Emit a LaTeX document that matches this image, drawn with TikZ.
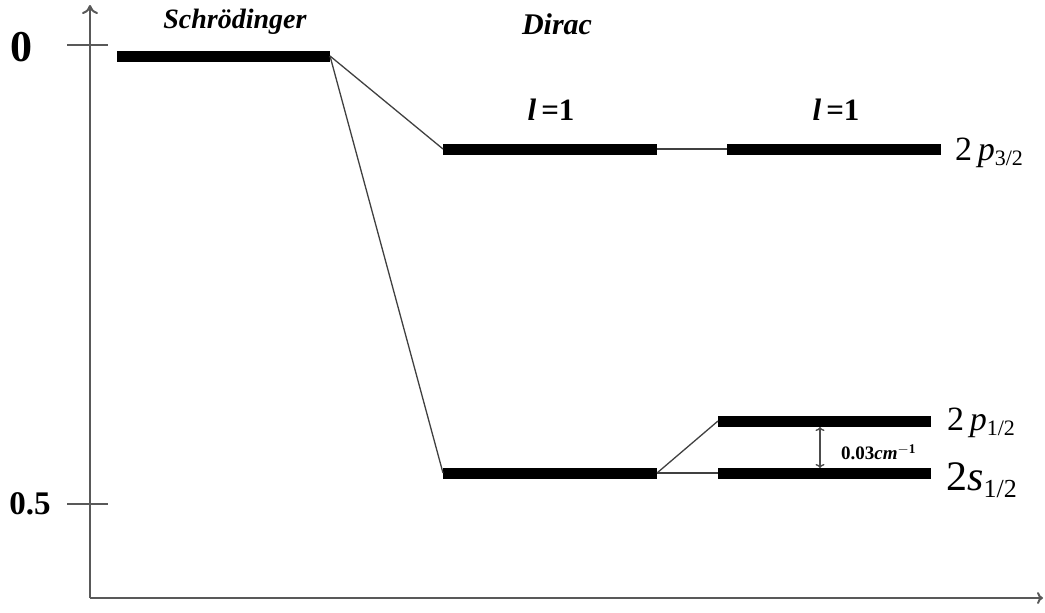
\documentclass[tikz,border=0pt]{standalone}
\usepackage{fontspec}
\setmainfont{Liberation Serif}
\usetikzlibrary{arrows.meta}
\begin{document}
\begin{tikzpicture}[x=1pt,y=-1pt,
  level/.style={line width=11pt,black},
  conn/.style={line width=1.3pt,black!75},
  axis/.style={line width=2pt,black!65},
  lbl/.style={inner sep=0pt,anchor=base}]
\useasboundingbox (0,0) rectangle (1045,613);
% axes
\coordinate (orig) at (90,598);
\coordinate (ytop) at (90,5);
\coordinate (xend) at (1043,598);
\draw[axis,-{To[length=9pt,width=16pt]}] (orig) -- (ytop);
\draw[axis,-{To[length=6pt,width=12pt]}] (orig) -- (xend);
\coordinate (t0a) at (67,45); \coordinate (t0b) at (108,45);
\coordinate (t5a) at (67,504); \coordinate (t5b) at (108,504);
\draw[axis] (t0a) -- (t0b);
\draw[axis] (t5a) -- (t5b);
\node[anchor=center,inner sep=0pt] (l0) at (21,47) {\fontsize{44}{46}\selectfont\bfseries 0};
\node[anchor=center,inner sep=0pt] (l05) at (30,504) {\fontsize{33}{34}\selectfont\bfseries 0.5};
% levels
\coordinate (sa) at (117,56); \coordinate (sb) at (330,56);
\coordinate (p3a) at (443,149); \coordinate (p3b) at (657,149);
\coordinate (q3a) at (727,149); \coordinate (q3b) at (941,149);
\coordinate (s1a) at (443,473); \coordinate (s1b) at (657,473);
\coordinate (r1a) at (718,473); \coordinate (r1b) at (931,473);
\coordinate (p1a) at (718,421); \coordinate (p1b) at (931,421);
\draw[level] (sa) -- (sb);
\draw[level] (p3a) -- (p3b);
\draw[level] (q3a) -- (q3b);
\draw[level] (s1a) -- (s1b);
\draw[level] (r1a) -- (r1b);
\draw[level] (p1a) -- (p1b);
% connectors
\draw[conn] (sb) -- (p3a);
\draw[conn] (sb) -- (s1a);
\draw[conn] (p3b) -- (q3a);
\draw[conn] (s1b) -- (r1a);
\draw[conn] (s1b) -- (p1a);
% splitting arrow
\coordinate (da) at (820,427); \coordinate (db) at (820,468);
\draw[line width=1.4pt,black!70,{To[length=4pt,width=9pt]}-{To[length=4pt,width=9pt]}] (da) -- (db);
\node[anchor=west,inner sep=0pt] (split) at (841,452) {\fontsize{19}{20}\selectfont\bfseries 0.03\textit{cm}$^{\mathbf{-1}}$};
% titles
\node[anchor=center,inner sep=0pt] (schr) at (235,22) {\fontsize{28}{30}\selectfont\bfseries\itshape Schrödinger};
\node[anchor=center,inner sep=0pt] (dirac) at (557,24) {\fontsize{30}{32}\selectfont\bfseries\itshape Dirac};
\node[anchor=center,inner sep=0pt] (lA) at (551,110) {\fontsize{31}{32}\selectfont\bfseries\textit{l}\,=1};
\node[anchor=center,inner sep=0pt] (lB) at (836,110) {\fontsize{31}{32}\selectfont\bfseries\textit{l}\,=1};
% state labels
\node[anchor=west,inner sep=0pt] (n3) at (955,153) {\fontsize{34}{36}\selectfont 2\,\textit{p}\raisebox{-0.3ex}{\fontsize{22}{24}\selectfont 3/2}};
\node[anchor=west,inner sep=0pt] (n1) at (947,423) {\fontsize{34}{36}\selectfont 2\,\textit{p}\raisebox{-0.3ex}{\fontsize{22}{24}\selectfont 1/2}};
\node[anchor=west,inner sep=0pt] (n2) at (946,480) {\fontsize{42}{44}\selectfont 2\textit{s}\raisebox{-0.35ex}{\fontsize{26}{28}\selectfont 1/2}};
\end{tikzpicture}
\end{document}
